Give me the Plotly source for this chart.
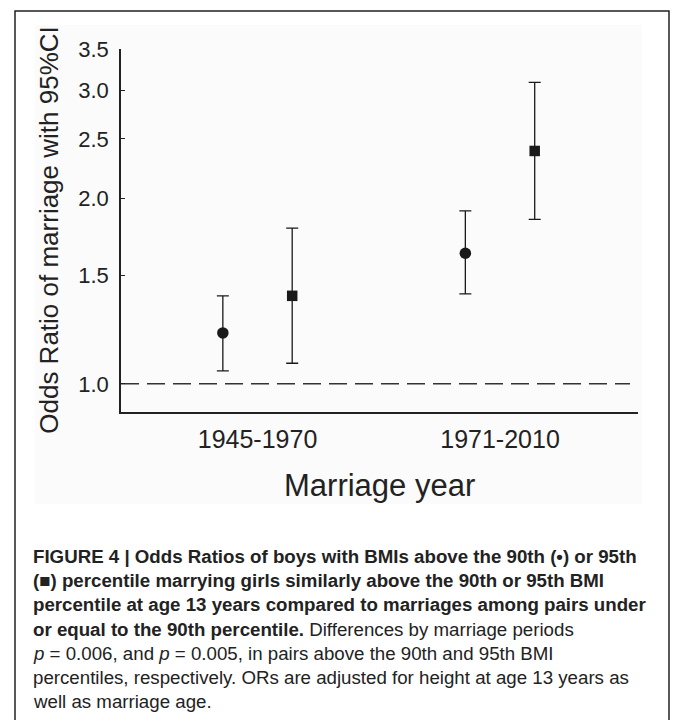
import plotly.graph_objects as go
import math

# ---- data ----
categories = ["1945-1970", "1971-2010"]
cat_pos = [1, 2]
or_90 = [1.21, 1.63]          # circles (90th percentile)
ci_90_low = [1.05, 1.40]
ci_90_high = [1.39, 1.91]
or_95 = [1.39, 2.39]          # squares (95th percentile)
ci_95_low = [1.08, 1.85]
ci_95_high = [1.79, 3.09]
y_tickvals = [1.0, 1.5, 2.0, 2.5, 3.0, 3.5]
y_ticktext = ["1.0", "1.5", "2.0", "2.5", "3.0", "3.5"]
ref_value = 1.0

caption_lines = [
    "<b>FIGURE 4 | Odds Ratios of boys with BMIs above the 90th (•) or 95th</b>",
    "<b>(■) percentile marrying girls similarly above the 90th or 95th BMI</b>",
    "<b>percentile at age 13 years compared to marriages among pairs under</b>",
    "<b>or equal to the 90th percentile.</b> Differences by marriage periods",
    "<i>p</i> = 0.006, and <i>p</i> = 0.005, in pairs above the 90th and 95th BMI",
    "percentiles, respectively. ORs are adjusted for height at age 13 years as",
    "well as marriage age.",
]

# ---- layout geometry (pixels) ----
WIDTH, HEIGHT = 673, 721
L, R, T, B = 121, 35, 49, 308.5
PW = WIDTH - L - R
PH = HEIGHT - T - B
OFF = 0.143

def px(x):
    return (x - L) / PW

def py(y):
    return 1 - (y - T) / PH

INK = "#1a1a1a"
FONT = "Liberation Sans, Arial, sans-serif"

fig = go.Figure()

# reference line at OR = 1
fig.add_trace(go.Scatter(
    x=[0.437, 2.536], y=[ref_value, ref_value], mode="lines",
    line=dict(color="#333333", width=1.5, dash="18px,8px"),
    showlegend=False, hoverinfo="skip"))

fig.add_trace(go.Scatter(
    x=[p - OFF for p in cat_pos], y=or_90, mode="markers",
    marker=dict(symbol="circle", size=11.5, color=INK),
    error_y=dict(type="data", symmetric=False,
                 array=[h - v for h, v in zip(ci_90_high, or_90)],
                 arrayminus=[v - l for l, v in zip(ci_90_low, or_90)],
                 color=INK, thickness=1.3, width=6),
    showlegend=False))

fig.add_trace(go.Scatter(
    x=[p + OFF for p in cat_pos], y=or_95, mode="markers",
    marker=dict(symbol="square", size=10.5, color=INK),
    error_y=dict(type="data", symmetric=False,
                 array=[h - v for h, v in zip(ci_95_high, or_95)],
                 arrayminus=[v - l for l, v in zip(ci_95_low, or_95)],
                 color=INK, thickness=1.3, width=6),
    showlegend=False))

shapes = [
    # faint chart background
    dict(type="rect", xref="paper", yref="paper",
         x0=px(35), x1=px(642), y0=py(505), y1=py(25),
         fillcolor="#fbfbfb", line=dict(width=0), layer="below"),
    # outer frame (left, top, right)
    dict(type="path", xref="paper", yref="paper",
         path=f"M {px(15)},{py(721)} L {px(15)},{py(11)} L {px(669)},{py(11)} L {px(669)},{py(721)}",
         line=dict(color="#222222", width=1.5)),
]

annotations = [
    dict(text="Marriage year", xref="paper", yref="paper",
         x=px(379.5), y=py(486), xanchor="center", yanchor="middle",
         showarrow=False, font=dict(family=FONT, size=31, color="#222222")),
    dict(text="Odds Ratio of marriage with 95%CI", xref="paper", yref="paper",
         x=px(49), y=py(230), xanchor="center", yanchor="middle", textangle=-90,
         showarrow=False, font=dict(family=FONT, size=26, color="#222222")),
]
line_y = [556.7, 581.2, 605.7, 630.0, 654.2, 678.2, 702.0]
for txt, yy in zip(caption_lines, line_y):
    annotations.append(dict(
        text=txt, xref="paper", yref="paper", x=px(31), y=py(yy),
        xanchor="left", yanchor="middle", showarrow=False, align="left",
        font=dict(family=FONT, size=18.7, color="#222222")))

fig.update_layout(
    width=WIDTH, height=HEIGHT,
    margin=dict(l=L, r=R, t=T, b=B, pad=0),
    paper_bgcolor="white", plot_bgcolor="rgba(0,0,0,0)",
    font=dict(family=FONT, color="#222222"),
    shapes=shapes, annotations=annotations,
    xaxis=dict(range=[0.437, 2.569], tickvals=cat_pos, ticktext=categories,
               showgrid=False, zeroline=False, showline=True,
               linecolor="#222222", linewidth=1.5, ticks="",
               tickfont=dict(size=25, color="#222222"), ticklabelstandoff=4),
    yaxis=dict(type="log", range=[math.log10(0.9), math.log10(3.5)],
               tickvals=y_tickvals, ticktext=y_ticktext,
               showgrid=False, zeroline=False, showline=True,
               linecolor="#222222", linewidth=1.5,
               ticks="inside", ticklen=4, tickcolor="#222222",
               tickfont=dict(size=22, color="#222222"), ticklabelstandoff=6),
)

fig.write_html("out.html", config={"displayModeBar": False},
               post_script="document.body.style.margin='0';document.body.style.overflow='hidden';")
